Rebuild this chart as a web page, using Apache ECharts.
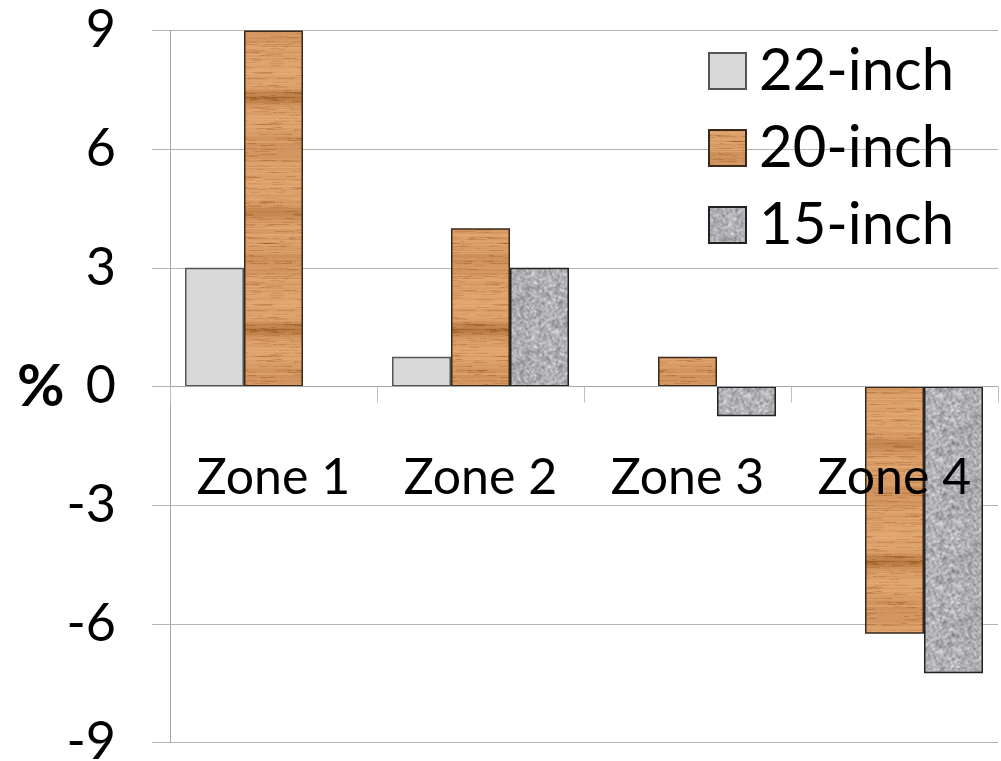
<!DOCTYPE html>
<html>
<head>
<meta charset="utf-8">
<script src="https://cdn.jsdelivr.net/npm/echarts@6/dist/echarts.min.js"></script>
<style>
  html, body { margin: 0; padding: 0; background: #fff; }
  #chart { width: 1001px; height: 761px; }
</style>
</head>
<body>
<div id="chart"></div>
<script>
// Change in each zone, by panel size (percent)
const zones = ['Zone 1', 'Zone 2', 'Zone 3', 'Zone 4'];
const inch22 = [3, 0.75, null, null];
const inch20 = [9, 4, 0.75, -6.25];
const inch15 = [null, 3, -0.75, -7.25];
const seriesNames = ['22-inch', '20-inch', '15-inch'];
const yTicks = { min: -9, max: 9, step: 3 };

// Grid box in pixels
const GRID = { left: 170, right: 3, top: 30.5, bottom: 18.5 };
const CHART_H = 761;

// Small seeded generator so the fill textures come out the same every time
function seeded(seed) {
  let a = seed >>> 0;
  return function () {
    a = (a + 0x6D2B79F5) >>> 0;
    let t = a;
    t = Math.imul(t ^ (t >>> 15), t | 1);
    t ^= t + Math.imul(t ^ (t >>> 7), t | 61);
    return ((t ^ (t >>> 14)) >>> 0) / 4294967296;
  };
}

// Wood grain tile: fine horizontal grain, short darker streaks, a few soft bands
function woodTile() {
  const w = 60, h = 232;
  const c = document.createElement('canvas');
  c.width = w; c.height = h;
  const ctx = c.getContext('2d');
  const img = ctx.createImageData(w, h);
  const rnd = seeded(7);
  const bands = [[30, 10, 14], [98, 7, 36], [150, 12, 12], [212, 8, 26]];
  const rowShade = [];
  for (let y = 0; y < h; y++) rowShade.push((rnd() - 0.5) * 20);
  const shade = new Float32Array(w * h);
  for (let y = 0; y < h; y++) {
    let band = 0;
    for (const [cy, sd, amp] of bands) {
      let d = Math.abs(y - cy); d = Math.min(d, h - d);
      band += amp * Math.exp(-Math.pow(d / sd, 2));
    }
    for (let x = 0; x < w; x++) {
      shade[y * w + x] = rowShade[y] * 0.8 + (rnd() - 0.5) * 6 - band;
    }
  }
  // short darker grain dashes
  for (let k = 0; k < 220; k++) {
    const y = Math.floor(rnd() * h);
    const x0 = Math.floor(rnd() * w);
    const len = 4 + Math.floor(rnd() * 18);
    const amt = 8 + rnd() * 14;
    for (let x = x0; x < x0 + len; x++) shade[y * w + (x % w)] -= amt;
  }
  for (let y = 0; y < h; y++) {
    for (let x = 0; x < w; x++) {
      const v = shade[y * w + x];
      const i = (y * w + x) * 4;
      img.data[i] = Math.max(0, Math.min(255, 220 + v));
      img.data[i + 1] = Math.max(0, Math.min(255, 160 + v * 1.1));
      img.data[i + 2] = Math.max(0, Math.min(255, 106 + v * 1.1));
      img.data[i + 3] = 255;
    }
  }
  ctx.putImageData(img, 0, 0);
  return c;
}

// Granite tile: speckled gray noise, softened a little
function graniteTile() {
  const w = 64, h = 64;
  const rnd = seeded(31);
  const raw = new Float32Array(w * h);
  for (let i = 0; i < w * h; i++) raw[i] = rnd();
  const out = document.createElement('canvas');
  out.width = w; out.height = h;
  const ctx = out.getContext('2d');
  const img = ctx.createImageData(w, h);
  for (let y = 0; y < h; y++) {
    for (let x = 0; x < w; x++) {
      let s = 0, n = 0;
      for (let dy = -1; dy <= 1; dy++) {
        for (let dx = -1; dx <= 1; dx++) {
          const xx = (x + dx + w) % w, yy = (y + dy + h) % h;
          const wt = (dx === 0 && dy === 0) ? 2 : 1;
          s += raw[yy * w + xx] * wt; n += wt;
        }
      }
      const v = (s / n - 0.5) * 150;
      const i = (y * w + x) * 4;
      img.data[i] = Math.max(0, Math.min(255, 176 + v));
      img.data[i + 1] = Math.max(0, Math.min(255, 176 + v));
      img.data[i + 2] = Math.max(0, Math.min(255, 180 + v));
      img.data[i + 3] = 255;
    }
  }
  ctx.putImageData(img, 0, 0);
  return out;
}

const fills = [
  '#d9d9d9',
  { image: woodTile(), repeat: 'repeat' },
  { image: graniteTile(), repeat: 'repeat' }
];
const borders = ['#555555', '#3a2a1c', '#222222'];
const values = [inch22, inch20, inch15];

// The category axis sits on the zero line: shift it up from the grid bottom
const plotH = CHART_H - GRID.top - GRID.bottom;
const zeroOffset = -plotH * (0 - yTicks.min) / (yTicks.max - yTicks.min);

const FONT = 'Lato, "Open Sans", sans-serif';
const chart = echarts.init(document.getElementById('chart'), null, { renderer: 'canvas' });

chart.setOption({
  animation: false,
  backgroundColor: '#ffffff',
  grid: Object.assign({ containLabel: false, outerBoundsMode: 'none' }, GRID),
  legend: {
    orient: 'vertical',
    left: 703,
    top: 37,
    itemWidth: 37,
    itemHeight: 36,
    itemGap: 19,
    icon: 'rect',
    textStyle: { fontFamily: FONT, fontSize: 58, color: '#000', padding: [0, 0, 0, 8] },
    data: seriesNames
  },
  xAxis: {
    type: 'category',
    data: zones,
    z: 10,
    offset: zeroOffset,
    axisLine: { onZero: false, lineStyle: { color: '#a6a6a6', width: 1 } },
    axisTick: { show: true, length: 16, alignWithLabel: false, lineStyle: { color: '#bfbfbf' } },
    axisLabel: { interval: 0, margin: 66, fontFamily: FONT, fontSize: 50, color: '#000' },
    splitLine: { show: false }
  },
  yAxis: {
    type: 'value',
    min: yTicks.min,
    max: yTicks.max,
    interval: yTicks.step,
    axisLine: { show: true, lineStyle: { color: '#a6a6a6', width: 1 } },
    axisTick: { show: true, length: 18, lineStyle: { color: '#b4b4b4' } },
    axisLabel: { margin: 54, fontFamily: FONT, fontSize: 52, color: '#000' },
    splitLine: { show: true, lineStyle: { color: '#b4b4b4', width: 1 } }
  },
  graphic: [
    {
      type: 'text',
      left: 17,
      top: 358,
      style: { text: '%', fontFamily: FONT, fontSize: 58, fontWeight: 'bold', fill: '#000' }
    }
  ],
  series: seriesNames.map((name, k) => ({
    name: name,
    type: 'bar',
    data: values[k],
    barGap: '0%',
    barCategoryGap: '14.5%',
    itemStyle: { color: fills[k], borderColor: borders[k], borderWidth: 1.5 }
  }))
});
</script>
</body>
</html>
